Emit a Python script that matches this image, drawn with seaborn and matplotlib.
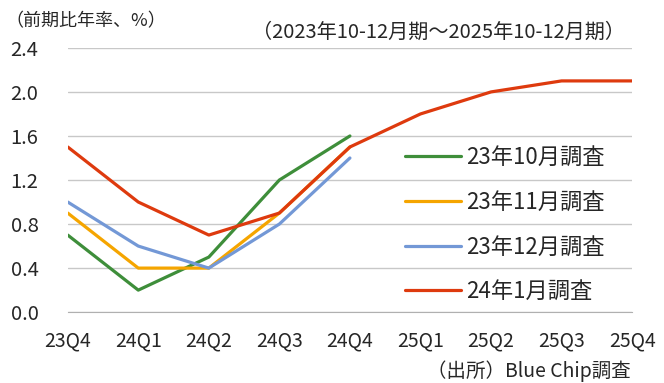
"""Blue Chip調査による米国実質GDP成長率見通し（四半期、前期比年率）の再現チャート。"""

import matplotlib
matplotlib.use("Agg")
import matplotlib.pyplot as plt
import pandas as pd
import seaborn as sns

QUARTERS = ["23Q4", "24Q1", "24Q2", "24Q3", "24Q4", "25Q1", "25Q2", "25Q3", "25Q4"]

SURVEYS = ["23年10月調査", "23年11月調査", "23年12月調査", "24年1月調査"]
OCT_23 = [0.7, 0.2, 0.5, 1.2, 1.6]
NOV_23 = [0.9, 0.4, 0.4, 0.9, 1.5]
DEC_23 = [1.0, 0.6, 0.4, 0.8, 1.4]
JAN_24 = [1.5, 1.0, 0.7, 0.9, 1.5, 1.8, 2.0, 2.1, 2.1]

COLORS = ["#3E8E3A", "#F5A500", "#7398D6", "#DE3A0E"]
Y_TICKS = [0.0, 0.4, 0.8, 1.2, 1.6, 2.0, 2.4]


def build_frame() -> pd.DataFrame:
    rows = []
    for name, values in zip(SURVEYS, [OCT_23, NOV_23, DEC_23, JAN_24]):
        for i, v in enumerate(values):
            rows.append({"pos": i, "quarter": QUARTERS[i], "survey": name, "value": v})
    return pd.DataFrame(rows)


def main() -> None:
    sns.set_style("white")
    plt.rcParams["font.family"] = ["Noto Sans CJK JP", "DejaVu Sans"]

    df = build_frame()
    fig, ax = plt.subplots(figsize=(6.64, 3.83), dpi=100)
    fig.subplots_adjust(left=0.102, right=0.952, top=0.875, bottom=0.185)

    sns.lineplot(data=df, x="pos", y="value", hue="survey", hue_order=SURVEYS,
                 palette=COLORS, linewidth=2.3, ax=ax, sort=False)

    ax.set_xlim(0, len(QUARTERS) - 1)
    ax.set_ylim(0, 2.4)
    ax.set_xticks(range(len(QUARTERS)))
    ax.set_xticklabels(QUARTERS)
    ax.set_yticks(Y_TICKS)
    ax.set_yticklabels([f"{t:.1f}" for t in Y_TICKS])
    ax.set_xlabel("")
    ax.set_ylabel("")

    ax.yaxis.grid(True, color="#C8C8C8", linewidth=1.0)
    ax.set_axisbelow(True)
    for side in ["top", "right", "left"]:
        ax.spines[side].set_visible(False)
    ax.spines["bottom"].set_color("#B0B0B0")
    ax.tick_params(axis="x", direction="out", length=6, color="#B0B0B0",
                   labelsize=14, pad=7)
    ax.tick_params(axis="y", length=0, labelsize=14.5, pad=21)

    leg = ax.legend(loc="upper left", bbox_to_anchor=(0.598, 0.629), frameon=False,
                    fontsize=16, handlelength=2.5, handletextpad=0.22,
                    labelspacing=0.98, borderaxespad=0, borderpad=0)
    for line in leg.get_lines():
        line.set_linewidth(2.3)

    fig.text(0.008, 0.945, "（前期比年率、%）", fontsize=13, ha="left", va="center")
    fig.text(0.942, 0.915, "（2023年10-12月期～2025年10-12月期）", fontsize=14.5,
             ha="right", va="center")
    fig.text(0.95, 0.03, "（出所）Blue Chip調査", fontsize=14, ha="right", va="center")

    fig.savefig("out.png", dpi=100)
    plt.close(fig)


if __name__ == "__main__":
    main()
